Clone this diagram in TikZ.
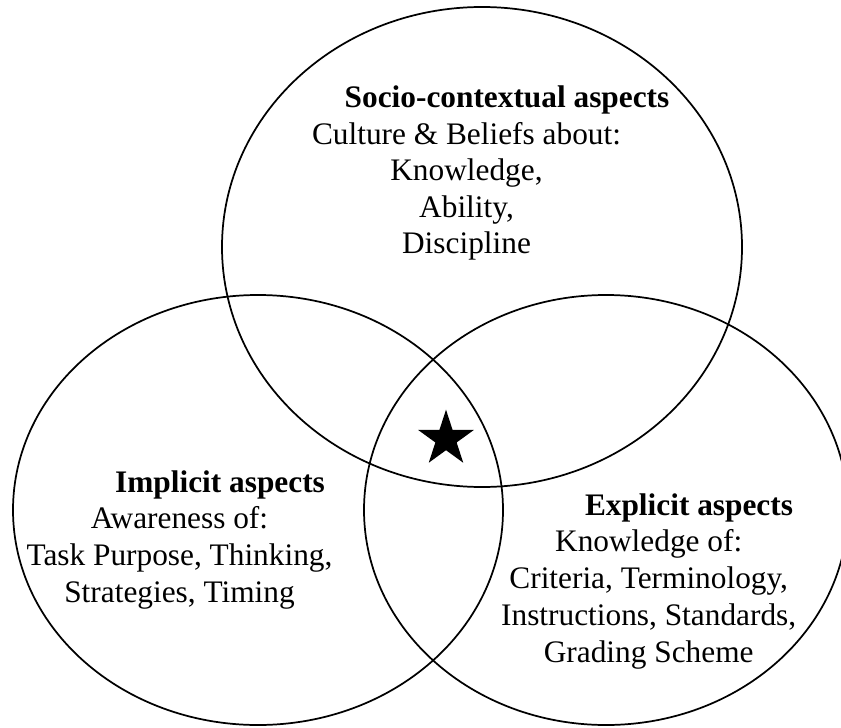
\documentclass[tikz,border=0pt]{standalone}
\usepackage{fontspec}
\setmainfont{Liberation Serif}
\usetikzlibrary{shapes.geometric}

\begin{document}
\begin{tikzpicture}[x=0.75pt,y=-0.75pt,
    set/.style={line width=1.3pt},
    head/.style={font=\fontsize{23.5}{28}\selectfont\bfseries,anchor=base,inner sep=0pt},
    txt/.style={font=\fontsize{23.5}{28}\selectfont,anchor=base,inner sep=0pt}]

  %%%% Fix the page size %%%%
  \useasboundingbox (0,0) rectangle (841,727);

  %% The three sets
  \draw[set] (482,247) ellipse [x radius=260,y radius=240];
  \draw[set] (258,510) ellipse [x radius=245,y radius=215];
  \draw[set] (606,510) ellipse [x radius=242,y radius=215];

  %% Star where all three meet
  \node[star,star points=5,star point ratio=2.618,fill,inner sep=0pt,minimum size=44pt] (core) at (446,439) {};

  %% Top set
  \node[head] (soc) at (507,108) {Socio-contextual aspects};
  \foreach \t [count=\i] in {Culture \& Beliefs about:,{Knowledge,},{Ability,},Discipline}{
    \node[txt] (soc-\i) at (466.5,108+36.4*\i) {\t};
  }

  %% Left set
  \node[head] (imp) at (220,492) {Implicit aspects};
  \foreach \t [count=\i] in {Awareness of:,{Task Purpose, Thinking,},{Strategies, Timing}}{
    \node[txt] (imp-\i) at (179.5,492+36.8*\i) {\t};
  }

  %% Right set
  \node[head] (exp) at (689,515) {Explicit aspects};
  \foreach \t [count=\i] in {Knowledge of:,{Criteria, Terminology,},{Instructions, Standards,},Grading Scheme}{
    \node[txt] (exp-\i) at (648.7,515+36.8*\i) {\t};
  }

\end{tikzpicture}
\end{document}
